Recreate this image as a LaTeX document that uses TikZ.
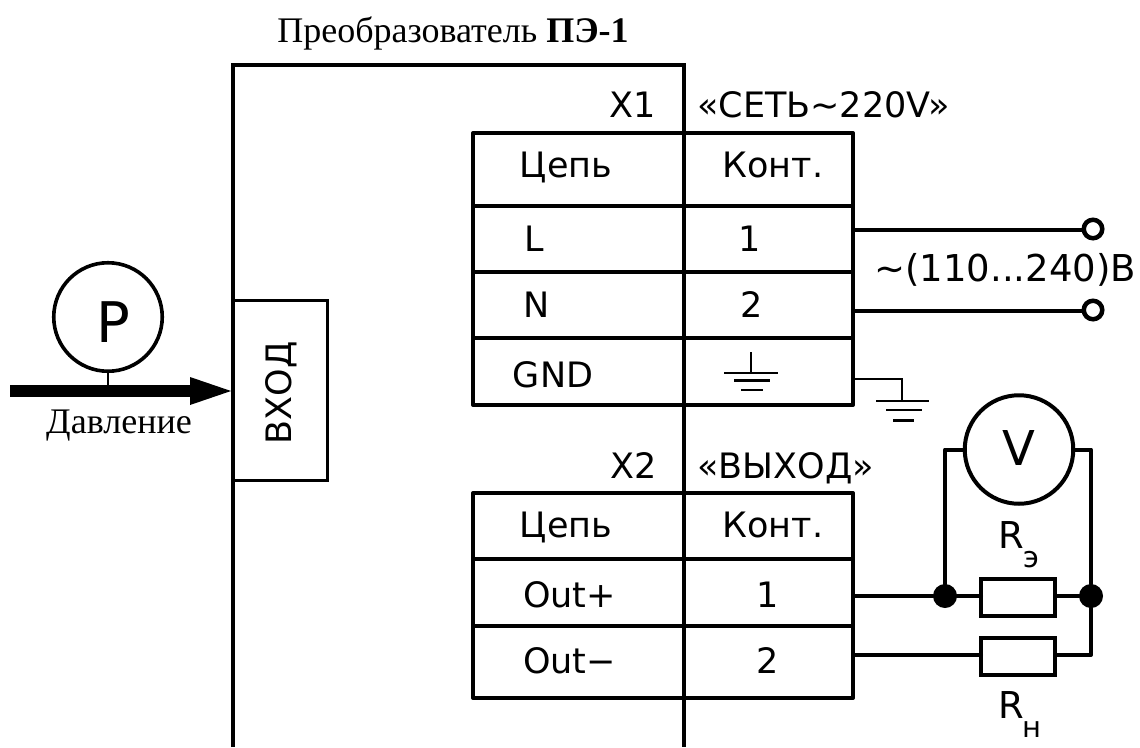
\documentclass[tikz,border=0pt]{standalone}
\usepackage{fontspec}
\setmainfont{DejaVu Sans}
\newfontfamily\serifcyr{Liberation Serif}
\tikzset{
  wire/.style={line width=4pt,line cap=round,line join=round},
  thin wire/.style={line width=2.6pt},
  cell/.style={draw,line width=4pt,minimum height=#1,inner sep=0pt,outer sep=0pt,line join=round},
  txt/.style={inner sep=0pt,anchor=base,font=\fontsize{35}{40}\selectfont},
  ser/.style={inner sep=0pt,anchor=base,font=\fontsize{36}{40}\selectfont\serifcyr},
  sub/.style={inner sep=0pt,anchor=base,font=\fontsize{29}{32}\selectfont},
  res/.style={draw,line width=4pt,minimum width=74pt,minimum height=37pt,inner sep=0pt,outer sep=0pt},
  meter/.style={draw,circle,line width=3.6pt,minimum size=108.5pt,inner sep=0pt,outer sep=0pt},
  dot/.style={circle,fill=black,minimum size=24pt,inner sep=0pt,outer sep=0pt},
  term/.style={draw,circle,fill=white,line width=4.5pt,minimum size=18.5pt,inner sep=0pt,outer sep=0pt},
}
\begin{document}
\begin{tikzpicture}[x=1pt,y=-1pt]
\useasboundingbox (0,0) rectangle (1140,747);
% housing
\coordinate (fbl) at (233,747); \coordinate (ftl) at (233,65);
\coordinate (ftm) at (684,65);  \coordinate (fbm) at (684,747);
\draw[line width=4pt,line join=miter] (fbl) -- (ftl) -- (ftm) -- (fbm);
\node[ser] (title) at (453,42) {Преобразователь \textbf{ПЭ-1}};
% input
\node[draw,line width=3pt,minimum width=94pt,minimum height=180pt,inner sep=0pt,outer sep=0pt] (inbox) at (280,390.5) {};
\node[txt,rotate=90] (intext) at (291,393) {ВХОД};
\node[meter] (P) at (108,317) {};
\node[txt,font=\fontsize{56}{60}\selectfont] (Pt) at (113,342) {P};
\coordinate (arrs) at (10,391); \coordinate (arrb) at (190,391); \coordinate (stem) at (108,391);
\draw[line width=2.8pt] (P.south) -- (stem);
\draw[line width=12pt] (arrs) -- (arrb);
\fill (190,377) -- (231,391) -- (190,405) -- cycle;
\node[ser] (davl) at (119,433) {Давление};
% X1
\node[txt] (x1) at (633,117) {X1};
\node[txt,anchor=base west] (x1n) at (697,117) {«СЕТЬ\char"7E 220V»};
\node[cell=73pt,minimum width=211pt] (a1) at (578.5,169.5) {};
\node[cell=73pt,minimum width=169pt] (a2) at (768.5,169.5) {};
\node[cell=66pt,minimum width=211pt] (b1) at (578.5,239) {};
\node[cell=66pt,minimum width=169pt] (b2) at (768.5,239) {};
\node[cell=66pt,minimum width=211pt] (c1) at (578.5,305) {};
\node[cell=66pt,minimum width=169pt] (c2) at (768.5,305) {};
\node[cell=67pt,minimum width=211pt] (d1) at (578.5,371.5) {};
\node[cell=67pt,minimum width=169pt] (d2) at (768.5,371.5) {};
\node[txt] at (566,177.5) {Цепь};
\node[txt] at (773,177.5) {Конт.};
\node[txt] at (534,251) {L};
\node[txt] at (750,251) {1};
\node[txt] at (537,317) {N};
\node[txt] at (752,317) {2};
\node[txt] at (553,387) {GND};
% table earth
\coordinate (e0) at (751,352); \coordinate (e1) at (751,373);
\draw[line width=2.6pt] (e0) -- (e1) (724,373) -- (778,373) (734,380.5) -- (770,380.5) (741,390) -- (763,390);
% X2
\node[txt] (x2) at (634,478) {X2};
\node[txt,anchor=base west] (x2n) at (697,478) {«ВЫХОД»};
\node[cell=66pt,minimum width=211pt] (p1) at (578.5,526) {};
\node[cell=66pt,minimum width=169pt] (p2) at (768.5,526) {};
\node[cell=67pt,minimum width=211pt] (q1) at (578.5,592.5) {};
\node[cell=67pt,minimum width=169pt] (q2) at (768.5,592.5) {};
\node[cell=72pt,minimum width=211pt] (r1) at (578.5,662) {};
\node[cell=72pt,minimum width=169pt] (r2) at (768.5,662) {};
\node[txt] at (566,537) {Цепь};
\node[txt] at (773,537) {Конт.};
\node[txt] at (569.5,607) {Out+};
\node[txt] at (768,607) {1};
\node[txt] at (569.5,673) {Out−};
\node[txt] at (768,673) {2};
% mains
\node[term] (t1) at (1093,229) {};
\node[term] (t2) at (1093,310) {};
\coordinate (s1) at (853,230); \coordinate (s2) at (853,311);
\draw[wire] (s1) -- (s1 -| t1.west);
\draw[wire] (s2) -- (s2 -| t2.west);
\node[txt,anchor=base west,font=\fontsize{37}{40}\selectfont] (volt) at (874,281) {\char"7E(110...240)В};
% ground
\coordinate (g0) at (853,379); \coordinate (g1) at (902,379); \coordinate (g2) at (902,401);
\draw[thin wire] (g0) -- (g1) -- (g2);
\draw[thin wire] (876,401) -- (929,401) (886,410) -- (922,410) (893,420.5) -- (914,420.5);
% output
\node[meter,line width=4pt] (V) at (1019,449.5) {};
\node[txt,font=\fontsize{48}{52}\selectfont] (Vt) at (1019,465) {V};
\node[res] (re) at (1018,597.5) {};
\node[res] (rn) at (1018,656) {};
\node[dot] (d1n) at (945,596) {};
\node[dot] (d2n) at (1091,596) {};
\coordinate (o1) at (853,596); \coordinate (o2) at (853,655);
\coordinate (vl) at (945,449.5); \coordinate (vr) at (1091,449.5); \coordinate (br) at (1091,655);
\draw[wire] (o1) -- (d1n) -- (d1n -| re.west);
\draw[wire] (d2n -| re.east) -- (d2n);
\draw[wire] (V.west) -- (vl) -- (d1n);
\draw[wire] (V.east) -- (vr) -- (d2n) -- (br) -- (br -| rn.east);
\draw[wire] (o2) -- (o2 -| rn.west);
\node[txt,font=\fontsize{37}{40}\selectfont] (rlab1) at (1011,548) {R};
\node[sub] (rsub1) at (1031,567) {э};
\node[txt,font=\fontsize{37}{40}\selectfont] (rlab2) at (1011,718) {R};
\node[sub] (rsub2) at (1032,737) {н};
\end{tikzpicture}
\end{document}
